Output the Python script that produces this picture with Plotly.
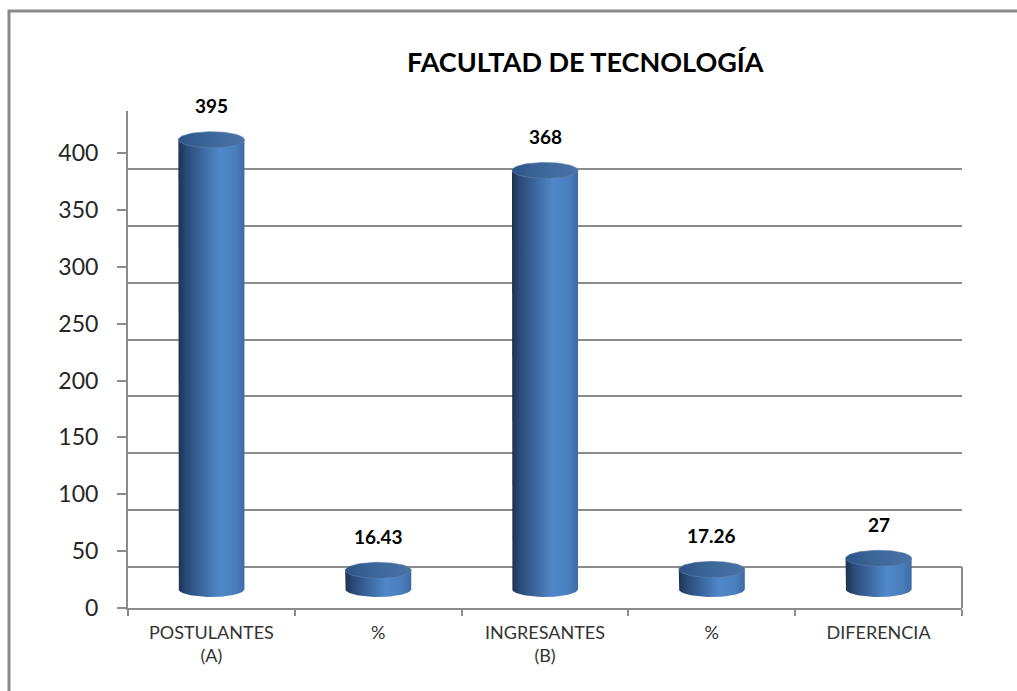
import numpy as np
import plotly.graph_objects as go

# --- data -------------------------------------------------------------
categories = ["POSTULANTES<br>(A)", "%", "INGRESANTES<br>(B)", "%", "DIFERENCIA"]
values = [395, 16.43, 368, 17.26, 27]
value_labels = ["395", "16.43", "368", "17.26", "27"]
tick_values = [0, 50, 100, 150, 200, 250, 300, 350, 400]

# --- geometry ---------------------------------------------------------
W, H = 1017, 691
ML, MR, MT, MB = 128, 55, 111, 83
plot_w = W - ML - MR
plot_h = H - MT - MB
px_per_unit = 1.1375                 # vertical scale of the value axes
span = plot_h / px_per_unit          # value span covered by the plot height

base_lift = 19 / px_per_unit         # cylinder floor above the front edge
wall_lift = 41 / px_per_unit         # back wall above the front edge

half_w = 0.198                       # cylinder half width (category units)
ell_b = 8 / px_per_unit              # ellipse vertical semi-axis (value units)

FONT = "Lato"
GRID = "#8c8c8c"

body_scale = [[0.0, "#1d3250"], [0.12, "#2a4a78"], [0.62, "#5088c9"],
              [0.85, "#4a7fbe"], [1.0, "#3d6ca5"]]
top_scale = [[0.0, "#2f5487"], [0.5, "#3e689b"], [1.0, "#4873a3"]]

fig = go.Figure()

t = np.linspace(0, np.pi, 40)
for i, v in enumerate(values):
    # cylinder body: straight sides with the front half of the base ellipse
    bx = np.concatenate([[i - half_w], i - half_w * np.cos(t), [i + half_w]])
    by = np.concatenate([[v], -ell_b * np.sin(t), [v]])
    fig.add_trace(go.Scatter(
        x=bx, y=by, fill="toself", mode="lines", line=dict(width=0),
        fillgradient=dict(type="horizontal", colorscale=body_scale),
        hoverinfo="skip", showlegend=False))
    # cylinder top
    a = np.linspace(0, 2 * np.pi, 80)
    fig.add_trace(go.Scatter(
        x=i + half_w * np.cos(a), y=v + ell_b * np.sin(a), fill="toself",
        mode="lines", line=dict(width=0.6, color="#5a7fae"),
        fillgradient=dict(type="horizontal", colorscale=top_scale),
        hoverinfo="skip", showlegend=False))

# placeholders so the overlaid axes are drawn
for ax in ("y2", "y3"):
    fig.add_trace(go.Scatter(x=[0], y=[0], yaxis=ax, mode="markers",
                             marker=dict(opacity=0), hoverinfo="skip",
                             showlegend=False))
fig.add_trace(go.Scatter(x=[0], y=[0], xaxis="x2", mode="markers",
                         marker=dict(opacity=0), hoverinfo="skip",
                         showlegend=False))

# value labels above each cylinder
for i, (v, lab) in enumerate(zip(values, value_labels)):
    fig.add_annotation(x=i, y=v, text=f"<b>{lab}</b>", showarrow=False,
                       yshift=34, font=dict(family=FONT, size=19,
                                            color="#000000"))

fig.update_layout(
    width=W, height=H,
    margin=dict(l=ML, r=MR, t=MT, b=MB),
    paper_bgcolor="white", plot_bgcolor="rgba(0,0,0,0)",
    font=dict(family=FONT, color="#333333"),
    xaxis=dict(range=[-0.5, len(values) - 0.5], tickmode="array",
               tickvals=list(range(len(values))), ticktext=categories,
               ticks="", showgrid=False, zeroline=False, showline=False,
               tickfont=dict(size=18, color="#333333"),
               ticklabelstandoff=12),
    xaxis2=dict(range=[-0.5, len(values) - 0.5], overlaying="x",
                anchor="y2", side="bottom", tickmode="array",
                tickvals=[k - 0.5 for k in range(len(values) + 1)],
                showticklabels=False, ticks="outside", ticklen=6,
                tickwidth=2, tickcolor=GRID, showline=True,
                linecolor=GRID, linewidth=2, showgrid=False,
                zeroline=False),
    yaxis=dict(range=[-base_lift, span - base_lift], showgrid=False,
               zeroline=False, showticklabels=False, ticks=""),
    yaxis2=dict(range=[0, span], overlaying="y", side="left",
                tickmode="array", tickvals=tick_values, ticks="outside",
                ticklen=9, tickwidth=2, tickcolor=GRID, showline=True,
                linecolor=GRID, linewidth=2, showgrid=False, zeroline=False,
                tickfont=dict(size=23, color="#262626"),
                ticklabelstandoff=14),
    yaxis3=dict(range=[-wall_lift, span - wall_lift], overlaying="y",
                side="right", tickmode="array", tickvals=tick_values,
                showticklabels=False, ticks="", showgrid=True,
                gridcolor=GRID, gridwidth=2, zeroline=False,
                showline=False),
    annotations=list(fig.layout.annotations) + [
        dict(text="<b>FACULTAD DE TECNOLOGÍA</b>", x=(585 - ML) / plot_w,
             y=(H - MB - 62) / plot_h, xref="paper", yref="paper",
             xanchor="center", yanchor="middle", showarrow=False,
             font=dict(family=FONT, size=27, color="#000000"))
    ],
)

# right-hand floor edge between the back wall and the front edge
fig.add_shape(type="line", xref="x domain", yref="y3", x0=1, x1=1,
              y0=0, y1=-wall_lift, line=dict(color=GRID, width=2))

# chart frame: left and top edges (the rest runs off the page)
fx0 = (9 - ML) / plot_w
fy1 = (H - MB - 11) / plot_h
fig.add_shape(type="path", xref="paper", yref="paper",
              path=f"M {fx0},-1 L {fx0},{fy1} L 1.5,{fy1}",
              line=dict(color="#8a8a8a", width=3), layer="below")

fig.write_html("out.html")
